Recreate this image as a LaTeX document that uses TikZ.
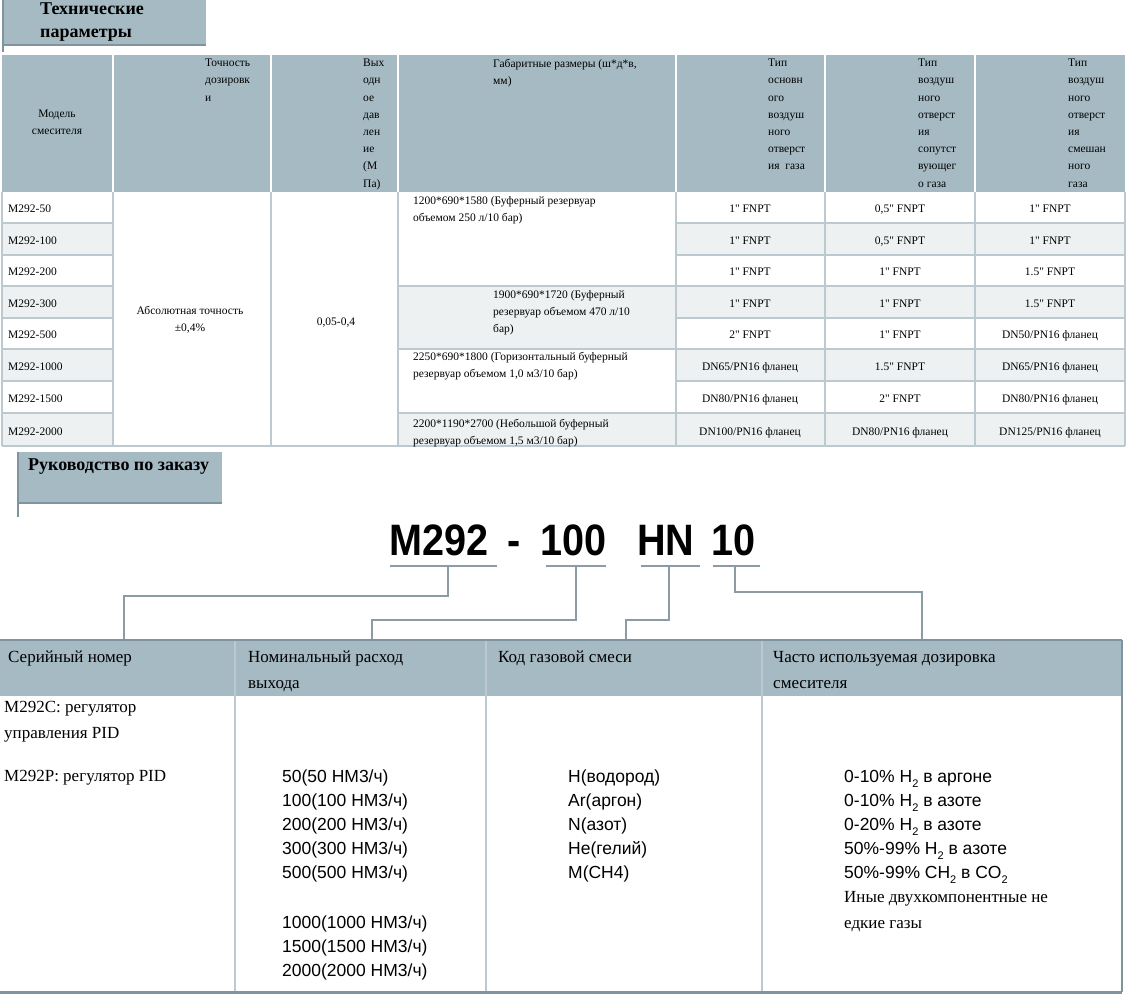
\documentclass[tikz,border=0pt]{standalone}
\usepackage{fontspec}
\setmainfont{Liberation Serif}
\newfontfamily\arialf{Liberation Sans}
\newfontfamily\plainserif{Liberation Serif}
\definecolor{hdr}{HTML}{A5BAC3}
\definecolor{lite}{HTML}{EDF1F2}
\definecolor{grid}{HTML}{BCCACF}
\definecolor{dark}{HTML}{7F949E}
\definecolor{conn}{HTML}{8D9CA4}
\tikzset{
  tt/.style={inner sep=0pt, font=\fontsize{11.5}{17.2}\selectfont, align=left, anchor=north west},
  ttc/.style={inner sep=0pt, font=\fontsize{11.5}{17.2}\selectfont, align=center, anchor=north},
  ttl/.style={inner sep=0pt, font=\fontsize{11.5}{17.2}\selectfont, anchor=base west},
  ttb/.style={inner sep=0pt, font=\fontsize{11.5}{17.2}\selectfont, anchor=base},
  bt/.style={inner sep=0pt, font=\fontsize{17}{26}\selectfont, align=left, anchor=north west},
  bs/.style={inner sep=0pt, font=\arialf\fontsize{17.5}{24}\selectfont, align=left, anchor=north west},
  ttlb/.style={inner sep=0pt, font=\bfseries\fontsize{18}{23}\selectfont, align=left, anchor=north west},
  code/.style={inner sep=0pt, font=\arialf\bfseries\fontsize{44}{44}\selectfont, anchor=base west, xscale=0.9},
  cn/.style={conn, line width=1.6pt},
}
\newcommand{\sub}{\raisebox{-5pt}{\fontsize{11}{11}\selectfont 2}}
\newcommand{\qq}{{\plainserif"}}
\begin{document}
\begin{tikzpicture}[x=1pt,y=-1pt]
\useasboundingbox (0,0) rectangle (1146,998);
% title box 1
\fill[hdr] (2,0) rectangle (206,45);
\draw[dark, line width=2pt] (2,45) -- (206,45);
\draw[dark, line width=1.5pt] (3,0) -- (3,52);
\node[ttlb] (t1) at (40,3) {Технические\\параметры};
% top table header
\fill[hdr] (2,55) rectangle (1125,192);
\foreach \x in {113,271,398,676,825,975} \draw[white, line width=2pt] (\x,55) -- (\x,192);
% body fills
\foreach \ya/\yb in {223/255,286/318,349/381,413/446} {
  \fill[lite] (2,\ya) rectangle (113,\yb);
  \fill[lite] (676,\ya) rectangle (1125,\yb);
}
\fill[lite] (398,286) rectangle (676,349);
\fill[lite] (398,413) rectangle (676,446);
% grid
\foreach \y in {223,255,286,318,349,381,413} {
  \draw[grid, line width=2pt] (2,\y) -- (113,\y);
  \draw[grid, line width=2pt] (676,\y) -- (1125,\y);
}
\foreach \y in {286,349,413} \draw[grid, line width=2pt] (398,\y) -- (676,\y);
\foreach \x in {2,113,271,398,676,825,975,1125} \draw[grid, line width=2pt] (\x,192) -- (\x,446);
\draw[grid, line width=2pt] (2,446) -- (1125,446);
% header texts
\node[ttc] (h1) at (57,110) {Модель\\смесителя};
\node[tt] (h2) at (205,59) {Точность\\дозировк\\и};
\node[tt] (h3) at (363,59) {Вых\\одн\\ое\\дав\\лен\\ие\\(М\\Па)};
\node[tt] (h4) at (493,59) {Габаритные размеры (ш*д*в,\\мм)};
\node[tt] (h5) at (768,59) {Тип\\основн\\ого\\воздуш\\ного\\отверст\\ия\ \ газа};
\node[tt] (h6) at (918,59) {Тип\\воздуш\\ного\\отверст\\ия\\сопутст\\вующег\\о газа};
\node[tt] (h7) at (1068,59) {Тип\\воздуш\\ного\\отверст\\ия\\смешан\\ного\\газа};
% model names
\foreach \n/\m/\y in {m1/50/212,m2/100/244,m3/200/275,m4/300/307,m5/500/338,m6/1000/370,m7/1500/402,m8/2000/435}
  \node[ttl] (\n) at (8,\y) {M292-\m};
\node[ttc] (acc) at (190,306) {Абсолютная точность\\±0,4\%};
\node[ttb] (pr) at (336,325) {0,05-0,4};
\node[tt] (d1) at (413,196) {1200*690*1580 (Буферный резервуар\\объемом 250 л/10 бар)};
\node[tt] (d2) at (493,290) {1900*690*1720 (Буферный\\резервуар объемом 470 л/10\\бар)};
\node[tt] (d3) at (413,352) {2250*690*1800 (Горизонтальный буферный\\резервуар объемом 1,0 м3/10 бар)};
\node[tt] (d4) at (413,419) {2200*1190*2700 (Небольшой буферный\\резервуар объемом 1,5 м3/10 бар)};
\foreach \n/\a/\b/\c/\y in {
 r1/{1\qq{} FNPT}/{0,5\qq{} FNPT}/{1\qq{} FNPT}/212,
 r2/{1\qq{} FNPT}/{0,5\qq{} FNPT}/{1\qq{} FNPT}/244,
 r3/{1\qq{} FNPT}/{1\qq{} FNPT}/{1.5\qq{} FNPT}/275,
 r4/{1\qq{} FNPT}/{1\qq{} FNPT}/{1.5\qq{} FNPT}/307,
 r5/{2\qq{} FNPT}/{1\qq{} FNPT}/{DN50\slash PN16 фланец}/338,
 r6/{DN65\slash PN16 фланец}/{1.5\qq{} FNPT}/{DN65\slash PN16 фланец}/370,
 r7/{DN80\slash PN16 фланец}/{2\qq{} FNPT}/{DN80\slash PN16 фланец}/402,
 r8/{DN100\slash PN16 фланец}/{DN80\slash PN16 фланец}/{DN125\slash PN16 фланец}/435} {
  \node[ttb] (\n a) at (750,\y) {\a};
  \node[ttb] (\n b) at (900,\y) {\b};
  \node[ttb] (\n c) at (1050,\y) {\c};
}
% title box 2
\fill[hdr] (18,452) rectangle (222,503);
\draw[dark, line width=2pt] (18,503) -- (222,503);
\draw[dark, line width=1.5pt] (18,452) -- (18,517);
\node[ttlb] (t2) at (28,459) {Руководство по заказу};
% code
\node[code] (c1) at (389,555) {M292};
\node[code] (c2) at (507,555) {-};
\node[code] (c3) at (540,555) {100};
\node[code] (c4) at (637,555) {HN};
\node[code] (c5) at (711,555) {10};
\coordinate (u1) at (448,566); \coordinate (u2) at (576,566);
\coordinate (u3) at (669,566); \coordinate (u4) at (735,566);
\draw[cn] (390,566) -- (497,566);
\draw[cn] (546,566) -- (606,566);
\draw[cn] (641,566) -- (700,566);
\draw[cn] (713,566) -- (760,566);
\coordinate (b1) at (124,640); \coordinate (b2) at (372,640);
\coordinate (b3) at (626,640); \coordinate (b4) at (922,640);
\draw[cn] (u1) -- (448,596) -- (124,596) -- (b1);
\draw[cn] (u2) -- (576,620) -- (372,620) -- (b2);
\draw[cn] (u3) -- (669,620) -- (626,620) -- (b3);
\draw[cn] (u4) -- (735,592) -- (922,592) -- (b4);
% bottom table
\fill[hdr] (0,640) rectangle (1122,696);
\foreach \x in {235,486,762} \draw[grid, line width=1.5pt] (\x,640) -- (\x,992);
\draw[dark, line width=2pt] (0,640) -- (1122,640);
\draw[dark, line width=1.5pt] (1122,640) -- (1122,992);
\draw[dark, line width=3pt] (0,992) -- (1122,992);
\node[bt] (g1) at (8,651) {Серийный номер};
\node[bt] (g2) at (248,651) {Номинальный расход\\выхода};
\node[bt] (g3) at (498,651) {Код газовой смеси};
\node[bt] (g4) at (773,651) {Часто используемая дозировка\\смесителя};
\node[bt] (s1) at (4,701) {M292C: регулятор\\управления PID};
\node[bt] (s2) at (4,770) {M292P: регулятор PID};
\node[bs] (f1) at (282,770) {50(50 НМ3/ч)\\100(100 НМ3/ч)\\200(200 НМ3/ч)\\300(300 НМ3/ч)\\500(500 НМ3/ч)};
\node[bs] (f2) at (282,916) {1000(1000 НМ3/ч)\\1500(1500 НМ3/ч)\\2000(2000 НМ3/ч)};
\node[bs] (k1) at (568,770) {H(водород)\\Ar(аргон)\\N(азот)\\He(гелий)\\M(CH4)};
\node[bs] (p1) at (844,770) {0-10\% H\sub{} в аргоне\\0-10\% H\sub{} в азоте\\0-20\% H\sub{} в азоте\\50\%-99\% H\sub{} в азоте\\50\%-99\% CH\sub{} в CO\sub};
\node[bt] (p2) at (844,891) {Иные двухкомпонентные не\\едкие газы};
\end{tikzpicture}
\end{document}
